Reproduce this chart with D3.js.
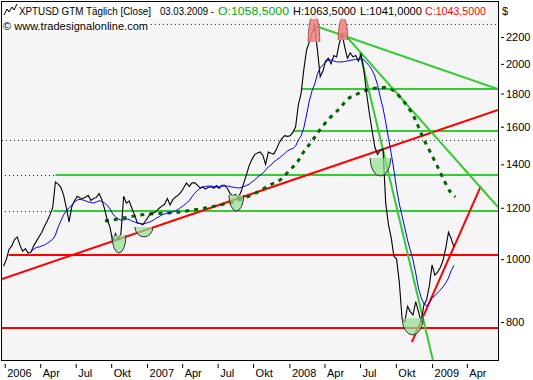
<!DOCTYPE html>
<html><head><meta charset="utf-8">
<script src="https://cdn.jsdelivr.net/npm/d3@7"></script>
<style>
body{margin:0;background:#fff}
svg{display:block}
text{font-family:"Liberation Sans",Arial,sans-serif;}
</style>
</head><body>
<svg id="c" width="533" height="380"></svg>
<script>
// ---------------- data ----------------
const firstWeek = "2005-12-30";            // weekly closes start here
const closes = [
 975,998,1035,1048,1072,1082,1051,1028,1038,1022,
 1025,1048,1065,1083,1100,1124,1145,1170,1200,1315,
 1305,1290,1255,1200,1141,1205,1230,1250,1242,1240,
 1246,1254,1232,1240,1245,1262,1235,1195,1149,1120,
 1062,1095,1072,1095,1250,1220,1230,1198,1170,1137,
 1135,1130,1145,1162,1178,1178,1185,1198,1207,1215,
 1240,1212,1235,1247,1255,1268,1288,1310,1295,1310,
 1312,1300,1288,1292,1282,1290,1293,1286,1298,1285,
 1300,1300,1285,1262,1252,1258,1244,1270,1310,1350,
 1395,1425,1449,1458,1463,1445,1400,1462,1456,1452,
 1478,1512,1535,1550,1546,1550,1568,1600,1730,1800,
 1960,2100,2160,2230,2280,2100,1910,1950,2020,2040,
 2000,2060,2050,2150,2230,2120,2040,2080,2050,2060,
 2020,2070,1960,1800,1680,1580,1490,1450,1470,1480,
 1220,1130,1080,1010,1000,920,810,800,846,830,
 820,860,830,800,850,866,910,980,945,955,
 971,995,1040,1100,1075,1043.5
];
const movingAvg = [
 null,null,null,null,null,null,null,null,null,null,
 1025,1036,1042,1044,1048,1051,1058,1065,1073,1089,
 1121,1145,1170,1187,1200,1212,1225,1234,1236,1234,
 1230,1225,1223,1220,1225,1230,1228,1220,1210,1195,
 1174,1162,1153,1149,1149,1153,1151,1145,1141,1137,
 1135,1133,1135,1139,1143,1149,1157,1163,1170,1174,
 1178,1180,1182,1187,1193,1202,1210,1220,1230,1247,
 1263,1276,1285,1291,1294,1296,1296,1294,1291,1294,
 1296,1296,1296,1294,1291,1289,1287,1289,1294,1299,
 1305,1315,1324,1338,1347,1357,1372,1387,1397,1412,
 1422,1432,1443,1455,1468,1476,1481,1494,1527,1549,
 1593,1668,1752,1817,1862,1930,1972,1993,2014,2025,
 2028,2021,2014,2014,2014,2017,2021,2025,2028,2032,
 2035,2035,2028,2007,1986,1957,1916,1857,1778,1710,
 1627,1538,1457,1372,1283,1216,1166,1117,1070,1033,
 997,952,902,872,853,847,856,872,878,887,
 896,906,919,935,960,978
];
// rounding arc (dotted dark green)
const arcDates = ["2006-09-16","2006-10-06","2006-11-01","2006-12-02","2007-01-09","2007-02-22","2007-03-27","2007-04-30","2007-06-04","2007-07-08","2007-08-10","2007-09-15","2007-10-18","2007-11-13","2007-12-09","2008-01-03","2008-01-21","2008-02-06","2008-03-02","2008-03-20","2008-04-15","2008-05-11","2008-05-31","2008-06-24","2008-07-19","2008-08-14","2008-09-11","2008-09-29","2008-10-24","2008-11-14","2008-11-27","2008-12-10","2008-12-28","2009-01-15","2009-01-31","2009-02-18","2009-03-03"];
const arcValues = [1145,1149,1157,1166,1174,1178,1182,1191,1200,1212,1225,1247,1274,1301,1324,1372,1407,1458,1527,1582,1651,1710,1766,1797,1823,1836,1836,1810,1741,1668,1604,1537,1463,1392,1329,1269,1247];
// horizontal levels
const greenLevels = [1830, 1578, 1348, 1186];
const greenFrom   = ["2008-02-03","2008-01-11","2006-05-12","2006-05-06"];
const redLevels   = [1013, 784];
const redFrom     = ["2006-01-12","2005-12-26"];
const dottedLevels = [2304, 1527];
const dottedFrom   = ["2006-12-22","2005-12-26"];
// trend lines [startDate, startValue, endDate, endValue]
const redTrends = [
 ["2005-12-26", 932, "2009-06-20", 1698],
 ["2008-11-11", 745, "2009-05-07", 1296]
];
const greenTrends = [
 ["2008-03-02", 2296, "2009-06-20", 1829],
 ["2008-05-19", 2232, "2009-06-20", 1203],
 ["2008-07-01", 2078, "2009-01-04", 699]
];
// bottoms (green cups) and tops (red domes): from, to, flat edge, extreme
const cupFrom = ["2006-10-04","2006-12-02","2007-07-31","2008-07-27","2008-10-17"];
const cupTo   = ["2006-11-09","2007-01-17","2007-09-07","2008-09-18","2008-12-10"];
const cupTop  = [1089, 1121, 1256, 1432, 811];
const cupLow  = [1022, 1082, 1186, 1343, 764];
const domeFrom = ["2008-02-19","2008-05-06"];
const domeTo   = ["2008-03-20","2008-05-31"];
const domeBase = [2162, 2177];
const domeHigh = [2387, 2354];
// axes
const yTicks = [800,1000,1200,1400,1600,1800,2000,2200];
const xTickDates = ["2006-01-02","2006-04-03","2006-07-03","2006-10-02","2007-01-02","2007-04-02","2007-07-02","2007-10-01","2008-01-02","2008-04-01","2008-07-01","2008-10-01","2009-01-02","2009-04-01"];
const monthLabels = {3:"Apr",6:"Jul",9:"Okt"};
const domainDates = ["2005-12-26","2009-06-20"];
const valueDomain = [699, 2500];
// header
const titleParts = ["XPTUSD GTM Täglich [Close]","03.03.2009 -","O:1058,5000","H:1063,5000","L:1041,0000","C:1043,5000"];

// ---------------- drawing ----------------
const parse = d3.timeParse("%Y-%m-%d");
const svg = d3.select("#c");
const L = 2, R = 498, T = 1, B = 360;

const x = d3.scaleTime().domain(domainDates.map(parse)).range([L, R]);
const y = d3.scaleLog().domain(valueDomain).range([B, T]);

svg.append("rect").attr("width",533).attr("height",380).attr("fill","#fff");
svg.append("rect").attr("x",1).attr("y",1).attr("width",R-1).attr("height",B-1).attr("fill","#f5f5f5");

svg.append("clipPath").attr("id","clip").append("rect")
  .attr("x",L).attr("y",T+1).attr("width",R-L).attr("height",B-T-1);
const g = svg.append("g").attr("clip-path","url(#clip)");

// dotted levels
dottedLevels.forEach((v,i)=>{
  g.append("line").attr("x1",x(parse(dottedFrom[i]))).attr("x2",R)
   .attr("y1",Math.round(y(v))+0.5).attr("y2",Math.round(y(v))+0.5)
   .attr("stroke","#222").attr("stroke-width",1).attr("stroke-dasharray","1,3");
});
// dotted extensions of the two lower green levels
[2,3].forEach(i=>{
  const yy = Math.round(y(greenLevels[i]))+0.5;
  g.append("line").attr("x1",L+3).attr("x2",x(parse(greenFrom[i]))).attr("y1",yy).attr("y2",yy)
   .attr("stroke","#222").attr("stroke-dasharray","1,3");
});

// horizontal green / red
greenLevels.forEach((v,i)=>{
  const yy = Math.round(y(v));
  g.append("line").attr("x1",x(parse(greenFrom[i]))).attr("x2",R).attr("y1",yy).attr("y2",yy)
   .attr("stroke","#33cc33").attr("stroke-width",2);
});
redLevels.forEach((v,i)=>{
  const yy = Math.round(y(v));
  g.append("line").attr("x1",x(parse(redFrom[i]))).attr("x2",R).attr("y1",yy).attr("y2",yy)
   .attr("stroke","#ff0000").attr("stroke-width",2);
});

// trend lines
const seg = (arr,color)=>arr.forEach(t=>{
  g.append("line").attr("x1",x(parse(t[0]))).attr("y1",y(t[1]))
   .attr("x2",x(parse(t[2]))).attr("y2",y(t[3]))
   .attr("stroke",color).attr("stroke-width",2);
});
seg(redTrends,"#ff0000");
seg(greenTrends,"#33cc33");

// rounding arc
const arcLine = d3.line().curve(d3.curveCatmullRom).x(d=>x(d[0])).y(d=>y(d[1]));
g.append("path").datum(arcDates.map((d,i)=>[parse(d),arcValues[i]]))
 .attr("d",arcLine).attr("fill","none").attr("stroke","#006400")
 .attr("stroke-width",3).attr("stroke-dasharray","4,5");

// price & moving average
const t0 = parse(firstWeek);
const dates = closes.map((_,i)=>d3.timeDay.offset(t0,7*i));
const line = d3.line().defined(d=>d[1]!=null).x(d=>x(d[0])).y(d=>y(d[1]));
g.append("path").datum(dates.map((d,i)=>[d,closes[i]]))
 .attr("d",line).attr("fill","none").attr("stroke","#000").attr("stroke-width",1.1);
g.append("path").datum(dates.map((d,i)=>[d,movingAvg[i]]))
 .attr("d",line).attr("fill","none").attr("stroke","#0000ff").attr("stroke-width",1);

// cups
cupFrom.forEach((f,i)=>{
  const x0 = x(parse(f)), x1 = x(parse(cupTo[i]));
  const yt = y(cupTop[i]), yb = y(cupLow[i]);
  const rx = (x1-x0)/2, ry = yb-yt;
  g.append("path").attr("d",`M${x0},${yt} A${rx},${ry} 0 0 0 ${x1},${yt} Z`)
   .attr("fill","#90e090").attr("fill-opacity",0.7);
  g.append("path").attr("d",`M${x0},${yt} A${rx},${ry} 0 0 0 ${x1},${yt}`)
   .attr("fill","none").attr("stroke","#333").attr("stroke-width",1);
});
// domes
domeFrom.forEach((f,i)=>{
  const x0 = x(parse(f)), x1 = x(parse(domeTo[i]));
  const yb = y(domeBase[i]), yt = y(domeHigh[i]);
  const rx = (x1-x0)/2, ry = yb-yt;
  g.append("path").attr("d",`M${x0},${yb} A${rx},${ry} 0 0 1 ${x1},${yb} Z`)
   .attr("fill","#f08080").attr("fill-opacity",0.85);
  g.append("path").attr("d",`M${x0},${yb} A${rx},${ry} 0 0 1 ${x1},${yb}`)
   .attr("fill","none").attr("stroke","#b05050").attr("stroke-width",1);
});

// header boxes
svg.append("rect").attr("x",3).attr("y",2).attr("width",485).attr("height",17).attr("fill","#fff").attr("fill-opacity",0.75);
svg.append("rect").attr("x",3).attr("y",19).attr("width",147).attr("height",13).attr("fill","#fff").attr("fill-opacity",0.75);

// frame
svg.append("rect").attr("x",1.5).attr("y",1.5).attr("width",R-1).attr("height",B-1)
 .attr("fill","none").attr("stroke","#000").attr("stroke-width",1);

// header text
svg.append("path").attr("d","M4,15 L7,9 L9,12 L12,7 L14,10 L17,4").attr("fill","none").attr("stroke","#000").attr("stroke-width",1);
const partX = [19,160,218,293,360,425];
const partW = [132,54,71,63,62,61];
const partC = ["#000","#000","#00aa00","#000","#000","#ff0000"];
titleParts.forEach((s,i)=>{
  svg.append("text").attr("x",partX[i]).attr("y",14.5).attr("font-size",10.2)
   .attr("fill",partC[i]).attr("textLength",partW[i]).attr("lengthAdjust","spacingAndGlyphs").text(s);
});
svg.append("text").attr("x",3).attr("y",30).attr("font-size",10.5).attr("fill","#000")
 .attr("textLength",145).attr("lengthAdjust","spacingAndGlyphs").text("© www.tradesignalonline.com");
svg.append("text").attr("x",502).attr("y",14.5).attr("font-size",11).text("$");

// axes
const yAxis = d3.axisRight(y).tickValues(yTicks).tickFormat(d3.format("d")).tickSize(3).tickPadding(2);
svg.append("g").attr("transform","translate(501,0)").call(yAxis)
 .call(a=>a.select(".domain").remove())
 .call(a=>a.selectAll("text").attr("font-size",11).attr("font-family","Liberation Sans, Arial, sans-serif").attr("fill","#000"))
 .call(a=>a.selectAll("line").attr("stroke","#000"));

const fmt = d => d.getMonth()===0 ? String(d.getFullYear()) : monthLabels[d.getMonth()];
const xAxis = d3.axisBottom(x).tickValues(xTickDates.map(parse)).tickFormat(fmt).tickSize(4).tickPadding(1);
svg.append("g").attr("transform","translate(0,364)").call(xAxis)
 .call(a=>a.select(".domain").remove())
 .call(a=>a.selectAll("line").attr("stroke","#000"))
 .call(a=>a.selectAll("text").attr("text-anchor","start").attr("x",2).attr("y",5)
   .attr("font-size",11).attr("font-family","Liberation Sans, Arial, sans-serif").attr("fill","#000"));
</script>
</body></html>
